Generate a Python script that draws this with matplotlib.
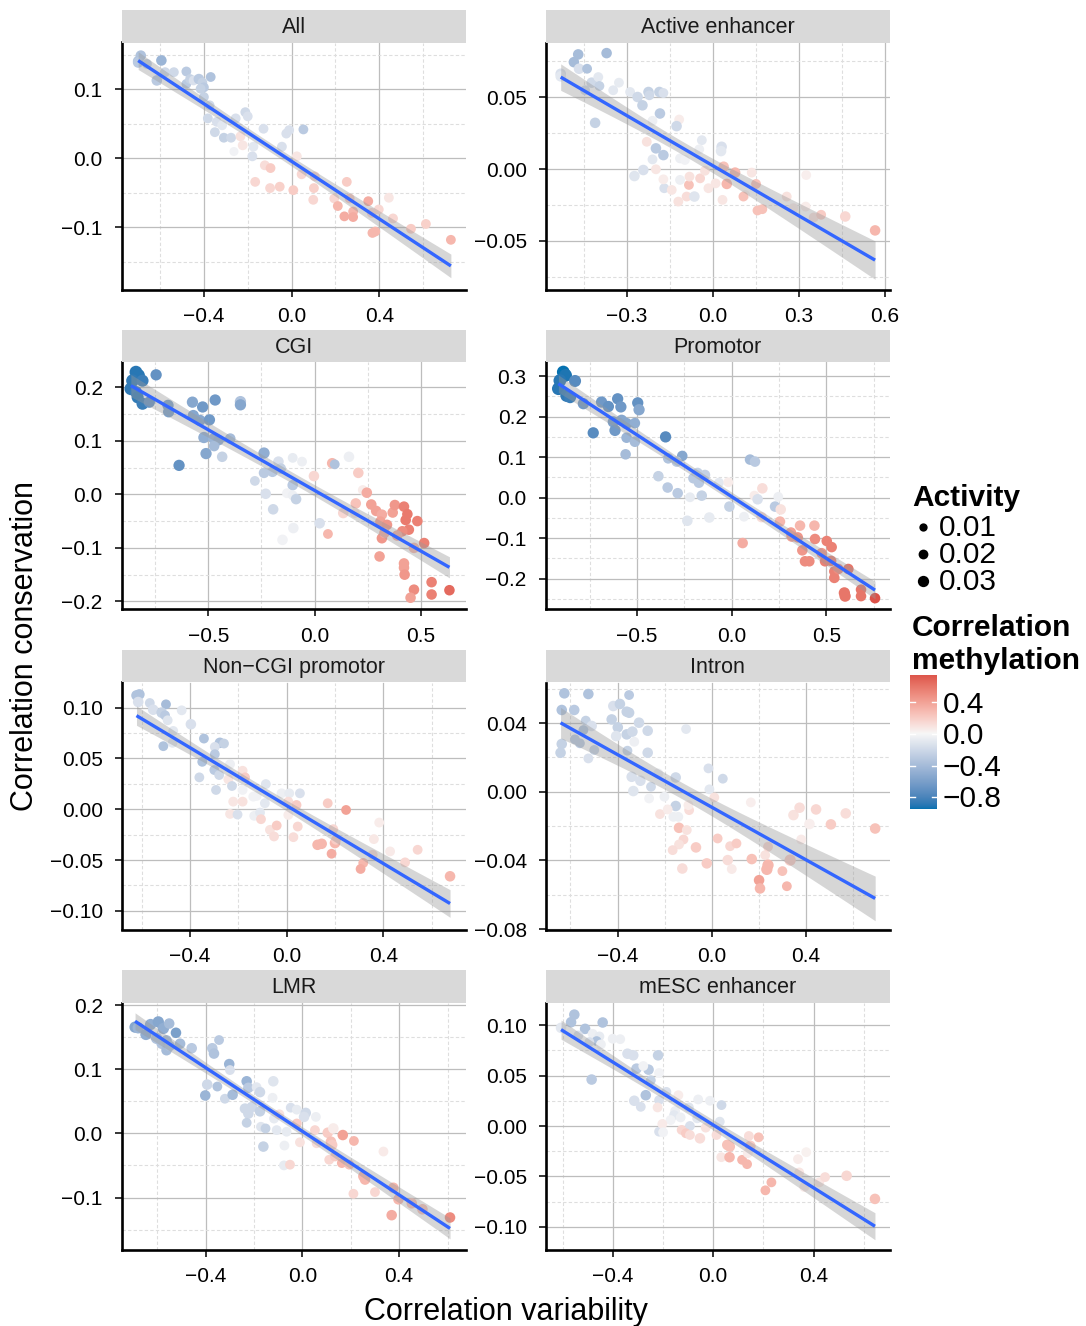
import numpy as np
import matplotlib
matplotlib.use("Agg")
import matplotlib.pyplot as plt
from matplotlib.ticker import MultipleLocator, FuncFormatter
import matplotlib.transforms as mtransforms

plt.rcParams['font.family'] = ['Liberation Sans', 'DejaVu Sans']

# ---------------- data ----------------
panel_titles = ["All", "Active enhancer", "CGI", "Promotor",
                "Non\u2212CGI promotor", "Intron", "LMR", "mESC enhancer"]

all_x = [-0.700, -0.688, -0.700, -0.660, -0.594, -0.615, -0.577, -0.537, -0.480, -0.480,
         -0.463, -0.447, -0.423, -0.407, -0.400, -0.415, -0.369, -0.400, -0.374, -0.382,
         -0.341, -0.350, -0.309, -0.276, -0.317, -0.255, -0.211, -0.200, -0.233, -0.223,
         -0.263, -0.174, -0.179, -0.128, -0.044, -0.024, -0.011, 0.054, -0.122, -0.096,
         -0.166, -0.098, -0.054, 0.008, 0.024, 0.046, 0.106, 0.102, 0.099, 0.195,
         0.211, 0.241, 0.252, 0.265, 0.281, 0.281, 0.350, 0.366, 0.369, 0.382,
         0.398, 0.444, 0.463, 0.545, 0.613, 0.727]
all_y = [0.141, 0.149, 0.139, 0.137, 0.142, 0.113, 0.125, 0.125, 0.126, 0.108,
         0.115, 0.113, 0.115, 0.110, 0.103, 0.101, 0.118, 0.089, 0.077, 0.058,
         0.053, 0.038, 0.030, 0.030, 0.048, 0.058, 0.067, 0.061, 0.032, 0.019,
         0.010, 0.017, 0.003, 0.043, 0.017, 0.036, 0.041, 0.042, -0.010, -0.014,
         -0.034, -0.043, -0.041, -0.046, 0.003, -0.023, -0.026, -0.043, -0.060, -0.058,
         -0.069, -0.084, -0.034, -0.058, -0.077, -0.085, -0.062, -0.079, -0.108, -0.106,
         -0.074, -0.057, -0.087, -0.102, -0.095, -0.118]
all_m = [-0.35, -0.35, -0.30, -0.25, -0.45, -0.30, -0.20, -0.20, -0.30, -0.30,
         -0.25, -0.15, -0.30, -0.25, -0.30, -0.25, -0.35, -0.25, -0.20, -0.20,
         -0.15, -0.20, -0.25, -0.20, -0.10, -0.15, -0.20, -0.15, 0.10, 0.08,
         -0.03, -0.10, -0.15, -0.15, -0.15, -0.15, -0.15, -0.30, 0.12, 0.20,
         0.15, 0.15, 0.18, 0.20, 0.08, 0.15, 0.15, 0.18, 0.15, 0.15,
         0.30, 0.35, 0.20, 0.20, 0.30, 0.35, 0.35, 0.15, 0.30, 0.30,
         0.15, 0.08, 0.15, 0.20, 0.18, 0.30]
all_a = [0.025, 0.025, 0.025, 0.02, 0.025, 0.025, 0.02, 0.02, 0.02, 0.02,
         0.02, 0.02, 0.025, 0.02, 0.02, 0.02, 0.02, 0.02, 0.02, 0.02,
         0.02, 0.02, 0.02, 0.02, 0.02, 0.02, 0.02, 0.02, 0.02, 0.02,
         0.015, 0.02, 0.02, 0.02, 0.02, 0.02, 0.02, 0.02, 0.02, 0.02,
         0.02, 0.02, 0.02, 0.02, 0.02, 0.02, 0.02, 0.02, 0.02, 0.02,
         0.02, 0.02, 0.02, 0.02, 0.02, 0.02, 0.02, 0.02, 0.02, 0.02,
         0.02, 0.02, 0.02, 0.02, 0.02, 0.02]

act_x = [-0.530, -0.530, -0.469, -0.484, -0.370, -0.466, -0.438, -0.422, -0.399, -0.395,
         -0.410, -0.445, -0.347, -0.327, -0.288, -0.262, -0.224, -0.221, -0.245, -0.186,
         -0.172, -0.184, -0.210, -0.117, -0.126, -0.230, -0.198, -0.172, -0.210, -0.198,
         -0.273, -0.242, -0.169, -0.172, -0.143, -0.114, -0.120, -0.091, -0.064, -0.083,
         -0.081, -0.038, -0.047, 0.031, 0.029, -0.114, -0.097, -0.044, -0.027, -0.015,
         0.010, 0.034, 0.038, 0.049, 0.078, 0.113, 0.107, 0.136, 0.151, 0.156,
         0.173, 0.258, 0.281, 0.324, 0.326, 0.352, 0.378, 0.462, 0.566]
act_y = [0.0664, 0.0646, 0.0799, 0.0745, 0.0808, 0.0699, 0.0699, 0.0602, 0.0641, 0.0579,
         0.0322, 0.0549, 0.0549, 0.0602, 0.0537, 0.0502, 0.0537, 0.0514, 0.0444, 0.0537,
         0.0530, 0.0387, 0.0336, 0.0345, 0.0299, 0.0190, 0.0144, 0.0097, 0.0067, -0.0002,
         -0.0049, -0.0007, -0.0134, -0.0072, -0.0146, -0.0076, -0.0227, -0.0192, -0.0192, -0.0111,
         -0.0053, 0.0201, 0.0137, 0.0155, 0.0125, 0.0074, 0.0063, -0.0065, -0.0012, -0.0134,
         -0.0100, -0.0215, 0.0016, -0.0104, -0.0025, -0.0181, -0.0192, -0.0025, -0.0104, -0.0289,
         -0.0280, -0.0192, -0.0273, -0.0262, -0.0042, -0.0338, -0.0319, -0.0331, -0.0428]
act_m = [-0.15, -0.10, -0.40, -0.40, -0.40, -0.15, -0.35, -0.20, -0.10, -0.25,
         -0.25, -0.20, -0.10, -0.08, -0.10, -0.20, -0.25, -0.20, -0.25, -0.25,
         -0.15, -0.30, -0.05, 0.05, -0.20, 0.10, -0.30, -0.30, -0.10, 0.08,
         -0.12, -0.15, -0.15, 0.05, 0.08, -0.05, 0.10, 0.12, -0.12, 0.25,
         0.10, -0.10, -0.05, -0.15, -0.10, -0.05, -0.03, 0.15, 0.10, 0.08,
         0.08, 0.08, 0.25, 0.30, 0.30, 0.03, 0.25, 0.08, 0.25, 0.25,
         0.25, 0.10, 0.05, 0.05, 0.04, 0.10, 0.20, 0.15, 0.30]
act_a = [0.025, 0.025, 0.025, 0.025, 0.025, 0.025, 0.02, 0.025, 0.02, 0.02,
         0.025, 0.02, 0.02, 0.02, 0.02, 0.025, 0.025, 0.02, 0.025, 0.025,
         0.02, 0.025, 0.02, 0.02, 0.025, 0.02, 0.025, 0.025, 0.02, 0.02,
         0.025, 0.025, 0.02, 0.02, 0.02, 0.02, 0.02, 0.02, 0.025, 0.02,
         0.02, 0.02, 0.02, 0.025, 0.025, 0.02, 0.02, 0.02, 0.02, 0.02,
         0.02, 0.02, 0.025, 0.025, 0.025, 0.02, 0.02, 0.02, 0.02, 0.02,
         0.02, 0.02, 0.02, 0.02, 0.02, 0.02, 0.02, 0.025, 0.025]

cgi_x = [-0.841, -0.829, -0.857, -0.810, -0.865, -0.841, -0.833, -0.810, -0.778, -0.746,
         -0.690, -0.687, -0.575, -0.527, -0.468, -0.349, -0.349, -0.571, -0.540, -0.495,
         -0.521, -0.476, -0.452, -0.397, -0.473, -0.511, -0.638, -0.435, -0.238, -0.238,
         -0.198, -0.170, -0.159, -0.103, -0.059, -0.281, -0.230, -0.195, -0.103, -0.130,
         -0.103, -0.087, -0.100, -0.151, 0.024, 0.063, -0.003, 0.083, 0.095, 0.162,
         0.206, 0.227, 0.246, 0.135, 0.194, 0.190, 0.267, 0.290, 0.317, 0.310,
         0.341, 0.317, 0.329, 0.368, 0.378, 0.421, 0.437, 0.429, 0.444, 0.413,
         0.389, 0.484, 0.516, 0.468, 0.306, 0.421, 0.421, 0.424, 0.468, 0.452,
         0.551, 0.551, 0.635]
cgi_y = [0.228, 0.222, 0.212, 0.212, 0.197, 0.191, 0.181, 0.169, 0.172, 0.223,
         0.166, 0.154, 0.172, 0.163, 0.176, 0.173, 0.167, 0.147, 0.138, 0.139,
         0.106, 0.104, 0.101, 0.104, 0.090, 0.076, 0.054, 0.070, 0.077, 0.040,
         0.042, 0.061, 0.048, 0.068, 0.061, 0.025, 0.001, -0.028, 0.017, 0.002,
         -0.002, -0.009, -0.063, -0.085, -0.054, -0.074, 0.034, 0.058, 0.056, 0.070,
         0.040, 0.008, 0.003, -0.035, -0.017, -0.035, -0.019, -0.031, -0.038, -0.051,
         -0.057, -0.082, -0.072, -0.034, -0.020, -0.023, -0.037, -0.048, -0.066, -0.069,
         -0.077, -0.050, -0.091, -0.100, -0.116, -0.129, -0.137, -0.150, -0.178, -0.193,
         -0.164, -0.187, -0.179]
cgi_m = [-0.90, -0.90, -0.88, -0.85, -0.88, -0.85, -0.88, -0.85, -0.70, -0.70,
         -0.60, -0.60, -0.55, -0.65, -0.65, -0.35, -0.55, -0.55, -0.55, -0.65,
         -0.50, -0.45, -0.50, -0.40, -0.40, -0.55, -0.70, -0.25, -0.50, -0.30,
         -0.30, -0.15, -0.25, -0.08, -0.05, -0.20, -0.15, -0.20, -0.30, -0.03,
         -0.05, -0.25, -0.05, -0.03, -0.15, 0.30, 0.15, 0.30, -0.35, -0.05,
         0.20, 0.05, 0.35, 0.15, 0.25, 0.08, 0.40, 0.40, 0.35, 0.40,
         0.45, 0.45, 0.35, 0.40, 0.45, 0.55, 0.58, 0.58, 0.55, 0.50,
         0.35, 0.55, 0.55, 0.30, 0.40, 0.40, 0.40, 0.45, 0.50, 0.40,
         0.55, 0.55, 0.65]
cgi_a = [0.04, 0.04, 0.04, 0.035, 0.04, 0.035, 0.035, 0.035, 0.03, 0.03,
         0.03, 0.03, 0.03, 0.03, 0.03, 0.03, 0.03, 0.03, 0.03, 0.03,
         0.03, 0.025, 0.025, 0.025, 0.025, 0.03, 0.03, 0.025, 0.03, 0.025,
         0.025, 0.025, 0.025, 0.02, 0.02, 0.02, 0.025, 0.025, 0.025, 0.02,
         0.02, 0.025, 0.025, 0.025, 0.025, 0.02, 0.025, 0.025, 0.02, 0.025,
         0.025, 0.02, 0.025, 0.025, 0.025, 0.02, 0.025, 0.025, 0.025, 0.025,
         0.025, 0.025, 0.025, 0.025, 0.025, 0.025, 0.025, 0.025, 0.025, 0.025,
         0.025, 0.025, 0.025, 0.025, 0.025, 0.025, 0.025, 0.025, 0.025, 0.025,
         0.025, 0.025, 0.025]

pro_x = [-0.889, -0.877, -0.907, -0.915, -0.871, -0.853, -0.827, -0.783, -0.687, -0.651,
         -0.602, -0.585, -0.731, -0.625, -0.616, -0.581, -0.555, -0.511, -0.496, -0.489,
         -0.555, -0.511, -0.560, -0.349, -0.261, -0.335, -0.290, -0.387, -0.338, -0.285,
         -0.220, -0.234, -0.158, -0.202, -0.173, -0.180, -0.141, -0.118, -0.067, -0.012,
         -0.018, 0.065, 0.097, 0.123, 0.120, 0.137, 0.162, 0.246, 0.229, 0.259,
         0.058, 0.158, 0.255, 0.313, 0.317, 0.349, 0.361, 0.437, 0.440, 0.373,
         0.387, 0.410, 0.502, 0.528, 0.475, 0.493, 0.525, 0.542, 0.542, 0.563,
         0.616, 0.595, 0.599, 0.683, 0.683, 0.757]
pro_y = [0.310, 0.302, 0.289, 0.269, 0.252, 0.248, 0.288, 0.232, 0.236, 0.225,
         0.244, 0.224, 0.160, 0.187, 0.166, 0.191, 0.183, 0.184, 0.234, 0.217,
         0.148, 0.138, 0.107, 0.150, 0.103, 0.097, 0.089, 0.053, 0.025, 0.011,
         0.001, -0.057, 0.005, 0.048, 0.037, 0.061, 0.056, -0.049, 0.037, -0.022,
         0.038, -0.047, 0.094, 0.089, 0.005, -0.004, 0.023, 0.002, -0.022, -0.029,
         -0.112, -0.048, -0.059, -0.086, -0.096, -0.098, -0.069, -0.069, -0.102, -0.130,
         -0.157, -0.157, -0.107, -0.122, -0.137, -0.157, -0.156, -0.182, -0.198, -0.176,
         -0.176, -0.235, -0.243, -0.227, -0.243, -0.248]
pro_m = [-0.95, -0.92, -0.90, -0.90, -0.88, -0.85, -0.75, -0.65, -0.65, -0.70,
         -0.70, -0.65, -0.75, -0.60, -0.65, -0.55, -0.55, -0.50, -0.70, -0.55,
         -0.45, -0.40, -0.40, -0.75, -0.55, -0.35, -0.30, -0.25, -0.30, -0.30,
         -0.08, -0.12, -0.25, -0.30, -0.30, -0.25, -0.25, -0.08, -0.10, -0.25,
         0.05, -0.05, -0.40, -0.30, 0.05, -0.15, 0.12, -0.05, -0.30, 0.10,
         0.35, 0.12, 0.30, 0.40, 0.40, 0.45, 0.30, 0.30, 0.50, 0.45,
         0.50, 0.50, 0.55, 0.55, 0.45, 0.55, 0.55, 0.55, 0.55, 0.50,
         0.60, 0.60, 0.60, 0.60, 0.60, 0.75]
pro_a = [0.04, 0.04, 0.04, 0.04, 0.04, 0.035, 0.035, 0.03, 0.03, 0.03,
         0.03, 0.03, 0.03, 0.03, 0.03, 0.03, 0.03, 0.025, 0.03, 0.03,
         0.025, 0.025, 0.025, 0.03, 0.025, 0.025, 0.025, 0.025, 0.025, 0.025,
         0.02, 0.025, 0.025, 0.025, 0.025, 0.025, 0.025, 0.025, 0.02, 0.025,
         0.02, 0.02, 0.025, 0.025, 0.02, 0.025, 0.025, 0.02, 0.025, 0.025,
         0.025, 0.025, 0.025, 0.025, 0.025, 0.025, 0.025, 0.025, 0.025, 0.025,
         0.025, 0.025, 0.025, 0.025, 0.025, 0.025, 0.025, 0.025, 0.025, 0.025,
         0.025, 0.03, 0.03, 0.025, 0.025, 0.025]

ncp_x = [-0.621, -0.609, -0.614, -0.566, -0.552, -0.499, -0.517, -0.503, -0.492, -0.434,
         -0.396, -0.469, -0.472, -0.510, -0.342, -0.276, -0.259, -0.297, -0.297, -0.349,
         -0.299, -0.279, -0.361, -0.292, -0.234, -0.182, -0.172, -0.241, -0.226, -0.182,
         -0.221, -0.182, -0.234, -0.203, -0.138, -0.124, -0.086, -0.090, -0.134, -0.110,
         -0.106, -0.069, -0.041, -0.052, -0.021, 0.011, 0.055, 0.007, 0.041, 0.007,
         0.046, 0.028, 0.170, 0.246, 0.193, 0.128, 0.145, 0.200, 0.204, 0.186,
         0.317, 0.306, 0.361, 0.383, 0.356, 0.428, 0.490, 0.542, 0.676]
ncp_y = [0.1121, 0.1131, 0.1056, 0.1046, 0.0980, 0.1033, 0.0951, 0.0925, 0.0876, 0.0974,
         0.0837, 0.0771, 0.0654, 0.0621, 0.0696, 0.0654, 0.0647, 0.0614, 0.0542, 0.0467,
         0.0386, 0.0337, 0.0314, 0.0190, 0.0444, 0.0379, 0.0314, 0.0294, 0.0229, 0.0190,
         0.0075, 0.0075, -0.0046, -0.0052, 0.0124, 0.0131, 0.0248, 0.0059, -0.0065, -0.0033,
         -0.0098, -0.0203, -0.0160, -0.0268, 0.0157, 0.0157, 0.0157, 0.0075, 0.0042, -0.0056,
         -0.0170, -0.0275, 0.0059, -0.0007, -0.0196, -0.0350, -0.0340, -0.0333, -0.0301, -0.0438,
         -0.0529, -0.0588, -0.0294, -0.0131, -0.0448, -0.0415, -0.0523, -0.0399, -0.0660]
ncp_m = [-0.35, -0.35, -0.15, -0.20, -0.15, -0.40, -0.25, -0.30, -0.12, -0.10,
         -0.15, -0.10, -0.10, -0.35, -0.35, -0.35, -0.25, -0.15, -0.30, -0.35,
         -0.30, -0.20, -0.20, -0.20, -0.05, 0.10, 0.20, 0.08, -0.20, -0.03,
         0.08, 0.10, 0.08, -0.15, -0.03, -0.03, -0.12, -0.10, -0.05, -0.10,
         0.15, 0.10, 0.20, 0.12, -0.05, -0.08, -0.15, 0.12, 0.20, 0.05,
         0.15, 0.12, 0.20, 0.40, 0.15, 0.30, 0.30, 0.30, 0.20, 0.35,
         0.30, 0.35, 0.07, 0.05, 0.12, 0.06, 0.15, 0.15, 0.30]
ncp_a = [0.025, 0.025, 0.025, 0.02, 0.025, 0.02, 0.025, 0.02, 0.02, 0.02,
         0.025, 0.02, 0.02, 0.02, 0.02, 0.025, 0.02, 0.02, 0.02, 0.02,
         0.02, 0.02, 0.02, 0.02, 0.02, 0.02, 0.02, 0.02, 0.02, 0.02,
         0.02, 0.02, 0.02, 0.02, 0.02, 0.02, 0.02, 0.02, 0.02, 0.02,
         0.02, 0.02, 0.02, 0.02, 0.02, 0.02, 0.02, 0.02, 0.02, 0.02,
         0.02, 0.02, 0.02, 0.02, 0.02, 0.025, 0.025, 0.025, 0.02, 0.02,
         0.02, 0.02, 0.02, 0.02, 0.02, 0.02, 0.02, 0.02, 0.025]

int_x = [-0.626, -0.524, -0.351, -0.637, -0.584, -0.535, -0.510, -0.545, -0.581, -0.560,
         -0.637, -0.642, -0.499, -0.524, -0.418, -0.390, -0.361, -0.351, -0.425, -0.399,
         -0.406, -0.361, -0.337, -0.309, -0.272, -0.329, -0.358, -0.272, -0.109, -0.014,
         0.047, -0.010, -0.340, -0.303, -0.333, -0.258, -0.266, -0.227, -0.201, -0.153,
         -0.153, -0.163, -0.220, -0.187, -0.142, -0.096, -0.099, -0.139, -0.106, -0.120,
         -0.139, -0.166, -0.125, -0.067, -0.021, 0.011, 0.025, 0.068, 0.078, 0.105,
         0.085, 0.166, 0.170, 0.227, 0.239, 0.239, 0.234, 0.201, 0.205, 0.300,
         0.319, 0.333, 0.347, 0.373, 0.380, 0.415, 0.443, 0.506, 0.569, 0.694]
int_y = [0.0573, 0.0569, 0.0563, 0.0476, 0.0476, 0.0414, 0.0383, 0.0359, 0.0305, 0.0282,
         0.0278, 0.0227, 0.0243, 0.0194, 0.0499, 0.0511, 0.0466, 0.0460, 0.0421, 0.0375,
         0.0324, 0.0334, 0.0350, 0.0402, 0.0355, 0.0291, 0.0239, 0.0227, 0.0365, 0.0136,
         0.0076, 0.0014, 0.0087, 0.0064, 0.0004, 0.0029, -0.0039, 0.0107, -0.0029, 0.0083,
         -0.0083, -0.0146, -0.0130, -0.0103, -0.0146, -0.0107, -0.0078, -0.0210, -0.0223, -0.0278,
         -0.0307, -0.0340, -0.0447, -0.0324, -0.0417, -0.0033, -0.0272, -0.0398, -0.0317, -0.0301,
         -0.0450, -0.0062, -0.0392, -0.0369, -0.0320, -0.0427, -0.0452, -0.0515, -0.0563, -0.0462,
         -0.0550, -0.0398, -0.0136, -0.0093, -0.0278, -0.0188, -0.0103, -0.0190, -0.0126, -0.0214]
int_m = [-0.35, -0.35, -0.30, -0.35, -0.30, -0.25, -0.15, -0.35, -0.30, -0.30,
         -0.25, -0.25, -0.25, -0.15, -0.15, -0.25, -0.25, -0.25, -0.25, -0.25,
         -0.12, -0.25, -0.20, -0.20, -0.20, -0.05, -0.25, -0.20, -0.10, -0.15,
         -0.20, -0.10, -0.15, -0.15, -0.12, -0.20, -0.03, -0.05, -0.05, -0.20,
         -0.25, -0.05, 0.10, 0.05, -0.05, 0.12, 0.05, 0.25, 0.10, 0.15,
         0.10, 0.12, 0.12, 0.20, 0.20, 0.10, 0.20, 0.12, 0.15, 0.20,
         0.06, 0.04, 0.25, 0.10, 0.15, 0.30, 0.30, 0.40, 0.30, 0.25,
         0.30, 0.20, 0.10, 0.12, 0.06, 0.04, 0.15, 0.20, 0.12, 0.25]
int_a = [0.025, 0.025, 0.02, 0.025, 0.025, 0.02, 0.025, 0.02, 0.02, 0.02,
         0.025, 0.025, 0.02, 0.02, 0.025, 0.025, 0.025, 0.025, 0.025, 0.025,
         0.025, 0.025, 0.025, 0.025, 0.025, 0.02, 0.02, 0.025, 0.02, 0.02,
         0.02, 0.02, 0.025, 0.025, 0.025, 0.02, 0.02, 0.02, 0.02, 0.025,
         0.025, 0.02, 0.02, 0.02, 0.02, 0.02, 0.02, 0.025, 0.02, 0.02,
         0.02, 0.02, 0.025, 0.025, 0.025, 0.02, 0.02, 0.025, 0.02, 0.02,
         0.02, 0.02, 0.025, 0.02, 0.02, 0.03, 0.03, 0.025, 0.025, 0.02,
         0.02, 0.03, 0.025, 0.025, 0.02, 0.025, 0.025, 0.025, 0.025, 0.025]

lmr_x = [-0.691, -0.678, -0.646, -0.627, -0.595, -0.574, -0.550, -0.602, -0.581, -0.561,
         -0.561, -0.548, -0.522, -0.505, -0.457, -0.372, -0.365, -0.344, -0.302, -0.299,
         -0.393, -0.351, -0.401, -0.320, -0.288, -0.230, -0.223, -0.189, -0.175, -0.120,
         -0.123, -0.237, -0.209, -0.175, -0.223, -0.230, -0.171, -0.152, -0.161, -0.117,
         -0.106, -0.095, -0.065, -0.074, -0.076, -0.051, -0.048, -0.023, 0.014, 0.007,
         0.056, -0.023, -0.010, 0.059, 0.052, 0.105, 0.128, 0.167, 0.213, 0.118,
         0.123, 0.111, 0.135, 0.163, 0.194, 0.335, 0.252, 0.259, 0.211, 0.300,
         0.376, 0.397, 0.452, 0.496, 0.369, 0.610]
lmr_y = [0.1656, 0.1645, 0.1542, 0.1697, 0.1738, 0.1635, 0.1712, 0.1481, 0.1398, 0.1450,
         0.1296, 0.1362, 0.1568, 0.1398, 0.1327, 0.1327, 0.1244, 0.1455, 0.1080, 0.0987,
         0.0761, 0.0730, 0.0591, 0.0540, 0.0602, 0.0812, 0.0710, 0.0720, 0.0643, 0.0812,
         0.0555, 0.0386, 0.0411, 0.0344, 0.0308, 0.0165, 0.0103, 0.0077, -0.0206, 0.0231,
         0.0051, 0.0298, 0.0026, -0.0190, -0.0499, -0.0488, 0.0401, 0.0370, 0.0319, 0.0257,
         0.0257, 0.0154, -0.0139, -0.0154, 0.0051, 0.0010, 0.0077, -0.0026, -0.0118, -0.0129,
         -0.0180, -0.0411, -0.0360, -0.0463, -0.0488, -0.0283, -0.0668, -0.0720, -0.0941, -0.0915,
         -0.0848, -0.1028, -0.1090, -0.1183, -0.1275, -0.1311]
lmr_m = [-0.55, -0.45, -0.50, -0.50, -0.55, -0.50, -0.40, -0.35, -0.35, -0.40,
         -0.40, -0.35, -0.60, -0.40, -0.30, -0.30, -0.35, -0.30, -0.45, -0.15,
         -0.20, -0.35, -0.45, -0.20, -0.40, -0.45, -0.30, -0.10, -0.20, -0.12,
         -0.05, -0.20, -0.20, -0.25, -0.20, -0.25, -0.12, -0.25, -0.25, -0.08,
         -0.10, 0.10, -0.08, -0.05, -0.08, 0.15, -0.15, -0.08, -0.20, -0.15,
         -0.05, 0.20, 0.10, 0.12, 0.15, 0.20, 0.05, 0.40, 0.30, 0.25,
         0.20, 0.15, 0.20, 0.30, 0.25, 0.06, 0.30, 0.30, 0.15, 0.15,
         0.30, 0.30, 0.25, 0.25, 0.35, 0.50]
lmr_a = [0.03, 0.03, 0.03, 0.03, 0.03, 0.03, 0.025, 0.03, 0.025, 0.025,
         0.025, 0.025, 0.025, 0.025, 0.025, 0.025, 0.025, 0.02, 0.025, 0.02,
         0.025, 0.02, 0.025, 0.02, 0.025, 0.025, 0.025, 0.02, 0.025, 0.025,
         0.02, 0.025, 0.025, 0.025, 0.025, 0.02, 0.02, 0.02, 0.025, 0.02,
         0.02, 0.02, 0.02, 0.02, 0.02, 0.02, 0.02, 0.02, 0.025, 0.025,
         0.02, 0.02, 0.02, 0.02, 0.02, 0.025, 0.025, 0.025, 0.02, 0.025,
         0.025, 0.02, 0.02, 0.02, 0.02, 0.02, 0.025, 0.025, 0.02, 0.02,
         0.025, 0.025, 0.025, 0.025, 0.025, 0.025]

mes_x = [-0.607, -0.554, -0.567, -0.511, -0.441, -0.538, -0.481, -0.454, -0.465, -0.494,
         -0.448, -0.401, -0.371, -0.485, -0.342, -0.319, -0.220, -0.306, -0.258, -0.279,
         -0.216, -0.249, -0.269, -0.315, -0.289, -0.216, -0.222, -0.187, -0.139, -0.152,
         -0.156, -0.170, -0.130, -0.097, -0.093, -0.060, -0.013, 0.033, 0.026, -0.064,
         -0.216, -0.203, -0.200, -0.126, -0.109, -0.093, -0.053, -0.030, 0.013, 0.032,
         0.056, 0.066, 0.065, 0.115, 0.135, 0.142, 0.148, 0.138, 0.181, 0.232,
         0.208, 0.338, 0.371, 0.343, 0.363, 0.423, 0.446, 0.532, 0.645]
mes_y = [0.0972, 0.1103, 0.1028, 0.0962, 0.1025, 0.0897, 0.0913, 0.0887, 0.0841, 0.0831,
         0.0808, 0.0864, 0.0860, 0.0460, 0.0716, 0.0700, 0.0700, 0.0568, 0.0558, 0.0594,
         0.0525, 0.0453, 0.0305, 0.0250, 0.0190, 0.0256, 0.0184, 0.0338, 0.0305, 0.0148,
         0.0108, 0.0059, 0.0085, 0.0184, 0.0000, 0.0263, 0.0250, 0.0207, 0.0043, 0.0076,
         -0.0056, 0.0020, -0.0062, -0.0039, -0.0072, -0.0089, -0.0122, -0.0016, -0.0089, -0.0309,
         -0.0187, -0.0204, -0.0309, -0.0335, -0.0378, -0.0099, -0.0197, -0.0269, -0.0112, -0.0558,
         -0.0637, -0.0328, -0.0259, -0.0460, -0.0604, -0.0558, -0.0506, -0.0493, -0.0722]
mes_m = [-0.10, -0.35, -0.35, -0.35, -0.35, -0.15, -0.05, -0.08, -0.35, -0.15,
         -0.05, -0.05, -0.05, -0.30, -0.15, -0.15, -0.25, -0.30, -0.30, -0.03,
         -0.03, -0.25, -0.35, -0.15, -0.15, -0.15, 0.08, -0.15, 0.05, -0.05,
         -0.10, -0.03, -0.05, -0.12, -0.15, -0.05, -0.05, -0.20, -0.12, -0.10,
         -0.15, 0.06, -0.03, 0.15, 0.20, 0.12, 0.12, 0.10, 0.12, 0.08,
         0.25, 0.25, 0.30, 0.30, 0.30, 0.12, 0.20, 0.05, 0.25, 0.30,
         0.30, 0.05, 0.03, 0.08, 0.06, 0.08, 0.12, 0.15, 0.25]
mes_a = [0.025, 0.025, 0.025, 0.025, 0.025, 0.02, 0.02, 0.02, 0.02, 0.02,
         0.02, 0.02, 0.02, 0.025, 0.025, 0.025, 0.025, 0.025, 0.025, 0.02,
         0.02, 0.02, 0.025, 0.025, 0.02, 0.02, 0.02, 0.02, 0.02, 0.02,
         0.02, 0.02, 0.02, 0.02, 0.02, 0.02, 0.02, 0.02, 0.02, 0.02,
         0.02, 0.02, 0.02, 0.02, 0.02, 0.02, 0.025, 0.02, 0.02, 0.02,
         0.025, 0.025, 0.025, 0.02, 0.02, 0.02, 0.025, 0.02, 0.02, 0.02,
         0.02, 0.02, 0.02, 0.02, 0.02, 0.02, 0.02, 0.025, 0.025]

panel_x = [all_x, act_x, cgi_x, pro_x, ncp_x, int_x, lmr_x, mes_x]
panel_y = [all_y, act_y, cgi_y, pro_y, ncp_y, int_y, lmr_y, mes_y]
panel_m = [all_m, act_m, cgi_m, pro_m, ncp_m, int_m, lmr_m, mes_m]
panel_a = [all_a, act_a, cgi_a, pro_a, ncp_a, int_a, lmr_a, mes_a]

# axis limits / breaks per panel
x_lims = [(-0.776, 0.796), (-0.583, 0.618), (-0.909, 0.713), (-0.983, 0.836),
          (-0.683, 0.742), (-0.706, 0.757), (-0.747, 0.676), (-0.669, 0.705)]
y_lims = [(-0.190, 0.168), (-0.084, 0.0882), (-0.215, 0.246), (-0.276, 0.3336),
          (-0.1184, 0.1248), (-0.0802, 0.0636), (-0.181, 0.204), (-0.1223, 0.1223)]
x_steps = [0.4, 0.3, 0.5, 0.5, 0.4, 0.4, 0.4, 0.4]
y_steps = [0.1, 0.05, 0.1, 0.1, 0.05, 0.04, 0.1, 0.05]
y_decimals = [1, 2, 1, 1, 2, 2, 1, 2]

activity_breaks = [0.01, 0.02, 0.03]
meth_breaks = [0.4, 0.0, -0.4, -0.8]

# ---------------- colour scale (ggplot gradient2, Lab interpolation) ----------------
M_RGB2XYZ = np.array([[0.4124564, 0.3575761, 0.1804375],
                      [0.2126729, 0.7151522, 0.0721750],
                      [0.0193339, 0.1191920, 0.9503041]])
WHITE = np.array([0.95047, 1.0, 1.08883])


def hex2rgb(h):
    return np.array([int(h[i:i + 2], 16) for i in (1, 3, 5)]) / 255.0


def rgb2lab(c):
    c = np.where(c <= 0.04045, c / 12.92, ((c + 0.055) / 1.055) ** 2.4)
    xyz = (M_RGB2XYZ @ c) / WHITE
    f = np.where(xyz > 0.008856, np.cbrt(xyz), 7.787 * xyz + 16 / 116)
    return np.array([116 * f[1] - 16, 500 * (f[0] - f[1]), 200 * (f[1] - f[2])])


def lab2rgb(lab):
    L, a, b = lab
    fy = (L + 16) / 116
    f = np.array([fy + a / 500, fy, fy - b / 200])
    xyz = np.where(f ** 3 > 0.008856, f ** 3, (f - 16 / 116) / 7.787) * WHITE
    lin = np.clip(np.linalg.inv(M_RGB2XYZ) @ xyz, 0, 1)
    c = np.where(lin <= 0.0031308, 12.92 * lin, 1.055 * lin ** (1 / 2.4) - 0.055)
    return np.clip(c, 0, 1)


LAB_LOW = rgb2lab(hex2rgb('#0571B0'))
LAB_MID = rgb2lab(hex2rgb('#F7F7F7'))
LAB_HIGH = rgb2lab(hex2rgb('#CA0020'))

all_meth = np.concatenate([np.asarray(m) for m in panel_m])
m_min, m_max = all_meth.min(), all_meth.max()
m_abs = max(abs(m_min), abs(m_max))


def meth_color(v):
    p = v / (2 * m_abs) + 0.5
    if p <= 0.5:
        t = p / 0.5
        lab = LAB_LOW + t * (LAB_MID - LAB_LOW)
    else:
        t = (p - 0.5) / 0.5
        lab = LAB_MID + t * (LAB_HIGH - LAB_MID)
    return lab2rgb(lab)


def act_size(a):
    d_px = 6.8 + 150 * np.asarray(a)
    return (d_px * 0.72) ** 2


def fit_band(x, y, n=100):
    x = np.asarray(x); y = np.asarray(y)
    b, a0 = np.polyfit(x, y, 1)
    xs = np.linspace(x.min(), x.max(), n)
    yhat = a0 + b * xs
    N = len(x)
    resid = y - (a0 + b * x)
    s = np.sqrt(np.sum(resid ** 2) / (N - 2))
    sxx = np.sum((x - x.mean()) ** 2)
    se = s * np.sqrt(1 / N + (xs - x.mean()) ** 2 / sxx)
    t = 1.993
    return xs, yhat, yhat - t * se, yhat + t * se


def fmt(dec):
    def f(v, pos):
        s = f"{v:.{dec}f}"
        if float(s) == 0:
            s = f"{0:.{dec}f}"
        return s.replace('-', '\u2212')
    return FuncFormatter(f)


# ---------------- figure ----------------
W, H, DPI = 1086, 1326, 100
fig = plt.figure(figsize=(W / DPI, H / DPI), dpi=DPI)
fig.patch.set_facecolor('white')


def frect(l, t, r, b):
    return [l / W, 1 - b / H, (r - l) / W, (b - t) / H]


cols = [(121.5, 466.0), (545.5, 890.0)]
for i in range(8):
    row, col = divmod(i, 2)
    top = 42.5 + 320 * row
    bot = 289.5 + 320 * row
    l, r = cols[col]
    ax = fig.add_axes(frect(l, top, r, bot))
    sax = fig.add_axes(frect(l, top - 32.5, r, top))

    # strip
    sax.set_facecolor('#D9D9D9')
    sax.set_xticks([]); sax.set_yticks([])
    for sp in sax.spines.values():
        sp.set_visible(False)
    sax.text(0.5, 0.45, panel_titles[i], ha='center', va='center',
             fontsize=15.5, color='#1A1A1A', transform=sax.transAxes)

    x = np.asarray(panel_x[i]); y = np.asarray(panel_y[i])
    cols_pts = [meth_color(v) for v in panel_m[i]]
    ax.scatter(x, y, s=act_size(panel_a[i]), c=cols_pts, linewidths=0, zorder=3)
    xs, yh, lo, hi = fit_band(x, y)
    ax.fill_between(xs, lo, hi, color='#999999', alpha=0.4, linewidth=0, zorder=4)
    ax.plot(xs, yh, color='#3366FF', lw=2.4, zorder=5, solid_capstyle='butt')

    ax.set_xlim(*x_lims[i]); ax.set_ylim(*y_lims[i])
    ax.xaxis.set_major_locator(MultipleLocator(x_steps[i]))
    ax.xaxis.set_minor_locator(MultipleLocator(x_steps[i] / 2))
    ax.yaxis.set_major_locator(MultipleLocator(y_steps[i]))
    ax.yaxis.set_minor_locator(MultipleLocator(y_steps[i] / 2))
    ax.xaxis.set_major_formatter(fmt(1))
    ax.yaxis.set_major_formatter(fmt(y_decimals[i]))
    ax.set_axisbelow(True)
    ax.grid(which='major', color='#BDBDBD', lw=0.9, ls='-')
    ax.grid(which='minor', color='#DEDEDE', lw=0.8, ls=(0, (3, 2)))
    for sp in ('top', 'right'):
        ax.spines[sp].set_visible(False)
    for sp in ('left', 'bottom'):
        ax.spines[sp].set_linewidth(1.9)
        ax.spines[sp].set_color('black')
    ax.tick_params(axis='both', which='major', direction='out', length=5, width=1.1,
                   color='black', labelsize=15, labelcolor='black')
    ax.tick_params(axis='x', which='major', pad=7.5)
    ax.tick_params(axis='y', which='major', pad=8.5)
    ax.tick_params(which='minor', length=0)

# axis titles
fig.text(25 / W, 1 - 646 / H, 'Correlation conservation', rotation=90,
         ha='center', va='center', fontsize=22, color='black')
fig.text(506 / W, 1 - 1312 / H, 'Correlation variability',
         ha='center', va='center', fontsize=22, color='black')

# legend: activity
lax = fig.add_axes([0, 0, 1, 1])
lax.set_xlim(0, W); lax.set_ylim(H, 0)
lax.axis('off')
lax.patch.set_alpha(0)
fig.text(912 / W, 1 - 498 / H, 'Activity', fontsize=21.5, fontweight='bold',
         ha='left', va='center')
for k, a in enumerate(activity_breaks):
    yy = 527 + 27 * k
    lax.scatter([923], [yy], s=act_size(a), c='black', linewidths=0)
    fig.text(939 / W, 1 - (yy + 1) / H, f"{a:.2f}", fontsize=21.5, ha='left', va='center')

fig.text(912 / W, 1 - 628 / H, 'Correlation', fontsize=21.5, fontweight='bold',
         ha='left', va='center')
fig.text(912 / W, 1 - 661 / H, 'methylation', fontsize=21.5, fontweight='bold',
         ha='left', va='center')

# colour bar
px_per_unit = 78.9
cb_top = 734 - m_max * px_per_unit
cb_bot = 734 - m_min * px_per_unit
cax = fig.add_axes(frect(910, cb_top, 937, cb_bot))
vals = np.linspace(m_min, m_max, 300)
img = np.array([meth_color(v) for v in vals])[:, None, :]
cax.imshow(img, extent=[0, 1, m_min, m_max], origin='lower', aspect='auto',
           interpolation='bilinear')
cax.set_xlim(0, 1); cax.set_ylim(m_min, m_max)
cax.set_xticks([]); cax.set_yticks([])
for sp in cax.spines.values():
    sp.set_visible(False)
trans = mtransforms.blended_transform_factory(cax.transAxes, cax.transData)
for v in meth_breaks:
    cax.plot([0, 0.2], [v, v], color='white', lw=1.0)
    cax.plot([0.8, 1.0], [v, v], color='white', lw=1.0)
    cax.text(1.22, v - 0.03, f"{v:.1f}".replace('-', '\u2212'), transform=trans,
             fontsize=21.5, ha='left', va='center')

fig.savefig('out.png', dpi=DPI)
